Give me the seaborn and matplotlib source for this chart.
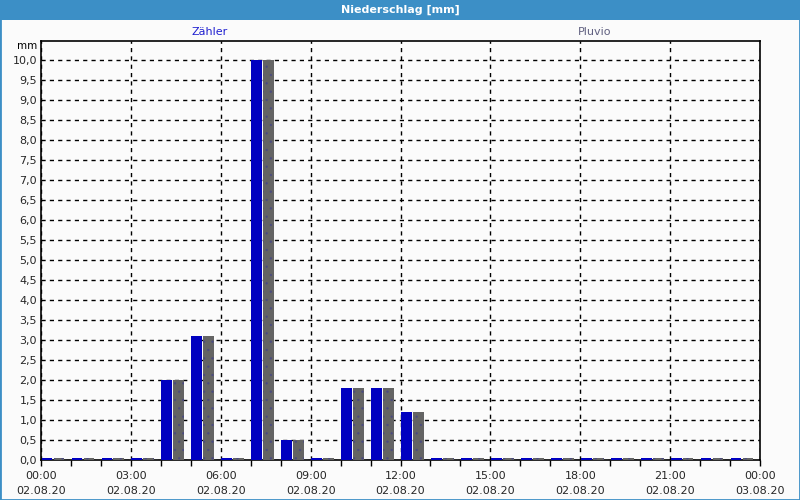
import numpy as np
import pandas as pd
import seaborn as sns
import matplotlib
matplotlib.use("Agg")
import matplotlib.pyplot as plt
from matplotlib.patches import Rectangle
from matplotlib.ticker import MultipleLocator, FuncFormatter
from matplotlib.colors import to_rgba

# ---- data ----
hours = list(range(24))
zaehler = [0.05, 0.05, 0.05, 0.05, 2.0, 3.1, 0.05, 10.0, 0.5, 0.05, 1.8, 1.8, 1.2,
           0.05, 0.05, 0.05, 0.05, 0.05, 0.05, 0.05, 0.05, 0.05, 0.05, 0.05]
pluvio = [0.05, 0.05, 0.05, 0.05, 2.0, 3.1, 0.05, 10.0, 0.5, 0.05, 1.8, 1.8, 1.2,
          0.05, 0.05, 0.05, 0.05, 0.05, 0.05, 0.05, 0.05, 0.05, 0.05, 0.05]
series_names = ["Zähler", "Pluvio"]
tick_times = ["00:00", "03:00", "06:00", "09:00", "12:00", "15:00", "18:00", "21:00", "00:00"]
tick_dates = ["02.08.20"] * 8 + ["03.08.20"]
title = "Niederschlag [mm]"

df = pd.DataFrame({
    "t": [h + 0.4 for h in hours] * 2,
    "value": zaehler + pluvio,
    "series": [series_names[0]] * 24 + [series_names[1]] * 24,
})

sns.set_theme(style="white")
plt.rcParams["font.family"] = ["DejaVu Sans"]
plt.rcParams["hatch.linewidth"] = 0.4

fig = plt.figure(figsize=(8, 5), dpi=100)
fig.patch.set_facecolor("#fbfbfb")
ax = fig.add_axes([41 / 800, 1 - 460 / 500, (760 - 41) / 800, (460 - 41) / 500])
ax.set_facecolor("#fbfbfb")

palette = {"Zähler": "#0000c0", "Pluvio": "#646464"}
sns.barplot(data=df, x="t", y="value", hue="series", native_scale=True, dodge=True,
            palette=palette, gap=0.1, width=0.8, saturation=1, legend=False,
            linewidth=0, ax=ax, zorder=3)

gray = to_rgba("#646464")
for p in ax.patches:
    if np.allclose(p.get_facecolor(), gray, atol=0.02):
        p.set_hatch("..")
        p._hatch_color = to_rgba("#4a4a80")
        p.set_linewidth(0)

ax.set_xlim(0, 24)
ax.set_ylim(0, 10.475)
ax.set_xticks(np.arange(0, 25, 3))
ax.xaxis.set_minor_locator(MultipleLocator(1))
ax.set_xticklabels([f"{a}\n{b}" for a, b in zip(tick_times, tick_dates)], fontsize=8,
                   linespacing=1.6)
ax.yaxis.set_major_locator(MultipleLocator(0.5))
ax.yaxis.set_major_formatter(FuncFormatter(lambda v, _: f"{v:.1f}".replace(".", ",")))
ax.tick_params(axis="y", labelsize=8, length=0, pad=3)
ax.tick_params(axis="x", which="both", direction="out", length=4, width=1, color="black",
               bottom=True, pad=4)
ax.set_xlabel("")
ax.set_ylabel("")

ax.grid(True, which="major", axis="both", color="black", linestyle=(0, (3, 3)), linewidth=1,
        zorder=1)
ax.set_axisbelow(True)
for s in ax.spines.values():
    s.set_color("black")
    s.set_linewidth(1.2)
    s.set_visible(True)

# title bar and window border
fig.patches.append(Rectangle((0, 1 - 20 / 500), 1, 20 / 500, transform=fig.transFigure,
                             facecolor="#3c8fc6", edgecolor="none", zorder=0))
fig.patches.append(Rectangle((0, 0), 1, 1, transform=fig.transFigure, facecolor="none",
                             edgecolor="#3c8fc6", linewidth=2, zorder=0))
fig.text(0.5, 1 - 10 / 500, title, color="white", fontsize=8, fontweight="bold",
         ha="center", va="center")
fig.text(210 / 800, 1 - 32 / 500, series_names[0], color="#2020d0", fontsize=8,
         ha="center", va="center")
fig.text(595 / 800, 1 - 32 / 500, series_names[1], color="#606080", fontsize=8,
         ha="center", va="center")
fig.text(37 / 800, 1 - 46 / 500, "mm", color="black", fontsize=7.5, ha="right", va="center")

fig.savefig("out.png", dpi=100, facecolor=fig.get_facecolor())
